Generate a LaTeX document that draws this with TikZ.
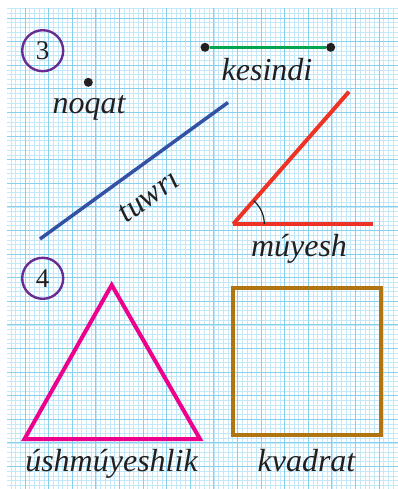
\documentclass[tikz,border=0pt]{standalone}
\usepackage{fontspec}
\setmainfont{Liberation Serif}
\usetikzlibrary{positioning}
\definecolor{gridmin}{RGB}{196,232,248}
\definecolor{gridmaj}{RGB}{135,208,238}
\definecolor{numpurple}{RGB}{106,44,145}
\definecolor{segcol}{RGB}{0,166,81}
\definecolor{linecol}{RGB}{52,82,165}
\definecolor{angcol}{RGB}{238,50,36}
\definecolor{tricol}{RGB}{236,0,140}
\definecolor{sqcol}{RGB}{176,116,16}
\definecolor{txtcol}{RGB}{35,31,32}
\begin{document}
\begin{tikzpicture}[x=1pt, y=1pt,
  num/.style={draw=numpurple, circle, line width=2.4pt, minimum size=41pt, inner sep=0pt, text=txtcol, font=\fontsize{27}{30}\selectfont},
  lbl/.style={anchor=base, text=txtcol, font=\fontsize{32}{36}\selectfont\itshape},
  dot/.style={circle, fill=txtcol, inner sep=0pt, minimum size=9pt},
  figline/.style={line width=4pt}]
\useasboundingbox (0,0) rectangle (398,-489);
\fill[white] (0,0) rectangle (398,-489);
\begin{scope}
\clip (7,-9) rectangle (398,-489);
\begin{scope}[shift={(25,-18)}]
\draw[gridmin, line width=0.6pt, step=4.72pt] (-20,12) grid (375,-473);
\draw[gridmaj, line width=0.9pt, step=23.6pt] (-24,12) grid (375,-473);
\end{scope}
\end{scope}

\node[num] (num3) at (42.7,-50.7) {3};
\node[num] (num4) at (42.7,-278.3) {4};

\node[dot] (pt) at (88.3,-82.3) {};
\node[lbl] (noqat) at (89,-113.3) {noqat};

\node[dot] (segA) at (205,-47.3) {};
\node[dot] (segB) at (330.7,-47.3) {};
\draw[segcol, line width=3pt] (segA) -- (segB);
\node[lbl] (kesindi) at (267,-81) {kesindi};

\coordinate (lnA) at (40,-239);
\coordinate (lnB) at (228,-102.5);
\draw[linecol, line width=3.5pt] (lnA) -- (lnB);
\node[lbl, anchor=center, rotate=36] (tuwri) at (149,-197) {tuwrı};

\coordinate (vx) at (233.3,-224);
\coordinate (rayA) at (373.3,-224);
\coordinate (rayB) at (349,-91.7);
\draw[angcol, figline] (vx) -- (rayA);
\draw[angcol, figline] (vx) -- (rayB);
\draw[txtcol, line width=1.2pt] ([shift={(0:31)}]vx) arc[start angle=0, end angle=48.8, radius=31];
\node[lbl] (muyesh) at (299,-256.7) {múyesh};

\coordinate (triL) at (24.5,-439);
\coordinate (triR) at (200,-439);
\coordinate (triT) at (111.7,-285);
\draw[tricol, figline] (triL) -- (triT) -- (triR) -- cycle;
\node[lbl] (ush) at (111.5,-471.7) {úshmúyeshlik};

\coordinate (sqA) at (233,-287.7);
\coordinate (sqB) at (381.3,-434.7);
\draw[sqcol, figline] (sqA) rectangle (sqB);
\node[lbl] (kvadrat) at (306.5,-471) {kvadrat};
\end{tikzpicture}
\end{document}
